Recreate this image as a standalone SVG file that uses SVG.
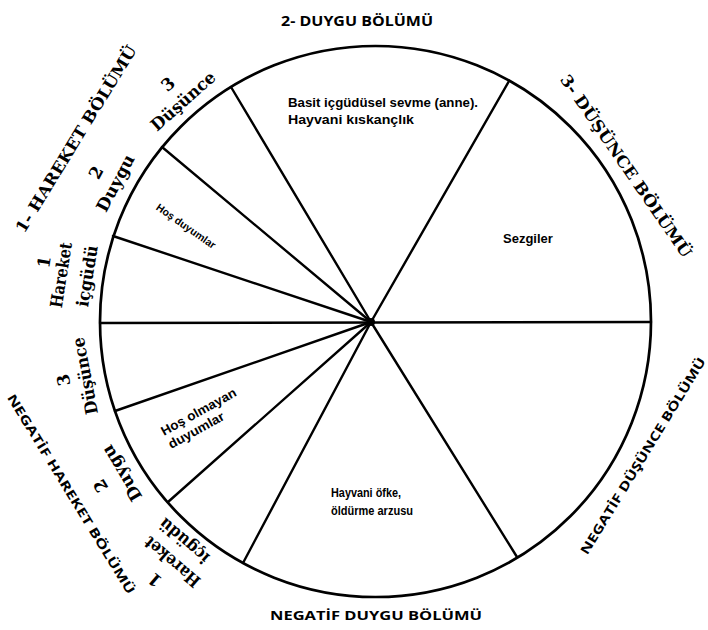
<svg xmlns="http://www.w3.org/2000/svg" width="708" height="630" viewBox="0 0 708 630">
<style>
.sp{stroke:#000;stroke-width:2.4;fill:none;stroke-linecap:round}
.big{font-family:"DejaVu Serif","Liberation Serif",serif;font-weight:bold;font-size:16px;fill:#000}
.neg{font-family:"Open Sans","Liberation Sans",sans-serif;font-weight:bold;font-size:12.5px;fill:#000}
.lab{font-family:"DejaVu Serif","Liberation Serif",serif;font-weight:bold;font-size:17px;fill:#000}
.in{font-family:"Liberation Sans",sans-serif;font-weight:bold;font-size:13px;fill:#000}
.hd{font-family:"Open Sans","Liberation Sans",sans-serif;font-weight:bold;font-size:15px;fill:#000}
</style>
<rect width="708" height="630" fill="#fff"/>
<g id="wheel">
<circle cx="375.5" cy="321.5" r="275.5" fill="none" stroke="#000" stroke-width="2.7"/>
</g>
<g id="connectors">
<line class="sp" x1="100" y1="323" x2="651" y2="322"/>
<line class="sp" x1="371" y1="322" x2="231" y2="87"/>
<line class="sp" x1="371" y1="322" x2="509" y2="81"/>
<line class="sp" x1="371" y1="322" x2="162" y2="147"/>
<line class="sp" x1="371" y1="322" x2="113" y2="236"/>
<line class="sp" x1="371" y1="322" x2="115" y2="411"/>
<line class="sp" x1="371" y1="322" x2="168" y2="502"/>
<line class="sp" x1="371" y1="322" x2="243" y2="563"/>
<line class="sp" x1="371" y1="322" x2="517" y2="557"/>
<circle cx="371" cy="322" r="4" fill="#000"/>
</g>
<g id="titles">
<text class="hd" x="357" y="26" text-anchor="middle" textLength="152" lengthAdjust="spacingAndGlyphs">2- DUYGU BÖLÜMÜ</text>
<text class="big" transform="translate(76,139) rotate(-58.5)" text-anchor="middle" dy="0.35em" textLength="216" lengthAdjust="spacingAndGlyphs">1- HAREKET BÖLÜMÜ</text>
<text class="big" transform="translate(626,166) rotate(55.4)" text-anchor="middle" dy="0.35em" textLength="218" lengthAdjust="spacingAndGlyphs">3- DÜŞÜNCE BÖLÜMÜ</text>
<text class="neg" transform="translate(71,494) rotate(58.5)" text-anchor="middle" dy="0.35em" textLength="232" lengthAdjust="spacingAndGlyphs">NEGATİF HAREKET BÖLÜMÜ</text>
<text class="neg" transform="translate(643,456) rotate(-58.6)" text-anchor="middle" dy="0.35em" textLength="228" lengthAdjust="spacingAndGlyphs">NEGATİF DÜŞÜNCE BÖLÜMÜ</text>
<text class="neg" x="376" y="620" text-anchor="middle" textLength="212" lengthAdjust="spacingAndGlyphs">NEGATİF DUYGU BÖLÜMÜ</text>
</g>
<g id="upper-labels">
<text class="lab" transform="translate(168,84) rotate(-41.4)" text-anchor="middle" dy="0.35em">3</text>
<text class="lab" transform="translate(183,101) rotate(-41.4)" text-anchor="middle" dy="0.35em" textLength="80" lengthAdjust="spacingAndGlyphs">Düşünce</text>
<text class="lab" transform="translate(96,172.6) rotate(-62)" text-anchor="middle" dy="0.35em">2</text>
<text class="lab" transform="translate(115.4,183) rotate(-62)" text-anchor="middle" dy="0.35em" textLength="62" lengthAdjust="spacingAndGlyphs">Duygu</text>
<text class="lab" transform="translate(44,262) rotate(-81)" text-anchor="middle" dy="0.35em">1</text>
<text class="lab" transform="translate(61,275) rotate(-81)" text-anchor="middle" dy="0.35em" textLength="66" lengthAdjust="spacingAndGlyphs">Hareket</text>
<text class="lab" transform="translate(87,276) rotate(-81)" text-anchor="middle" dy="0.35em" textLength="62" lengthAdjust="spacingAndGlyphs">içgüdü</text>
</g>
<g id="lower-labels">
<text class="lab" transform="translate(63.5,380) rotate(-100.7)" text-anchor="middle" dy="0.35em">3</text>
<text class="lab" transform="translate(85,376) rotate(-100.7)" text-anchor="middle" dy="0.35em" textLength="78" lengthAdjust="spacingAndGlyphs">Düşünce</text>
<text class="lab" transform="translate(100.7,485.8) rotate(-121)" text-anchor="middle" dy="0.35em">2</text>
<text class="lab" transform="translate(121.6,473.2) rotate(-121)" text-anchor="middle" dy="0.35em" textLength="62" lengthAdjust="spacingAndGlyphs">Duygu</text>
<text class="lab" transform="translate(155,580) rotate(-139.5)" text-anchor="middle" dy="0.35em">1</text>
<text class="lab" transform="translate(172,562) rotate(-139.5)" text-anchor="middle" dy="0.35em" textLength="68" lengthAdjust="spacingAndGlyphs">Hareket</text>
<text class="lab" transform="translate(184,541) rotate(-139.5)" text-anchor="middle" dy="0.35em" textLength="60" lengthAdjust="spacingAndGlyphs">içgüdü</text>
</g>
<g id="sector-texts">
<text class="in" x="288" y="107" textLength="190" lengthAdjust="spacingAndGlyphs">Basit içgüdüsel sevme (anne).</text>
<text class="in" x="288" y="124" textLength="126" lengthAdjust="spacingAndGlyphs">Hayvani kıskançlık</text>
<text class="in" x="503" y="243">Sezgiler</text>
<text class="in" transform="translate(186,226) rotate(35)" text-anchor="middle" dy="0.35em" style="font-size:10.5px" textLength="70" lengthAdjust="spacingAndGlyphs">Hoş duyumlar</text>
<g transform="translate(164,436) rotate(-29)">
<text class="in" x="0" y="0" textLength="84" lengthAdjust="spacingAndGlyphs">Hoş olmayan</text>
<text class="in" x="0" y="15" textLength="62" lengthAdjust="spacingAndGlyphs">duyumlar</text>
</g>
<text class="in" x="331" y="497" style="font-size:12px" textLength="70" lengthAdjust="spacingAndGlyphs">Hayvani öfke,</text>
<text class="in" x="331" y="515" style="font-size:12px" textLength="82" lengthAdjust="spacingAndGlyphs">öldürme arzusu</text>
</g>
</svg>
